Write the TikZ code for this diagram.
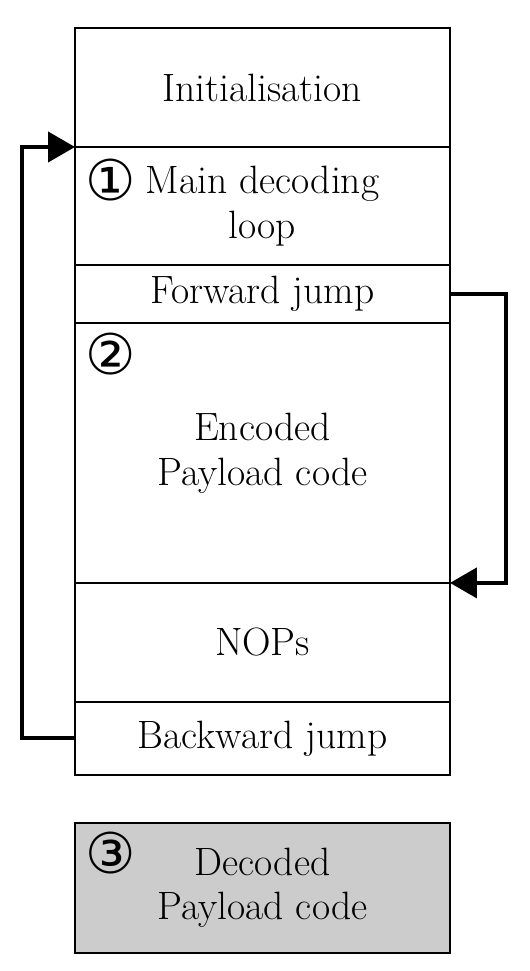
\documentclass[tikz,border=0pt]{standalone}
\usepackage{fontspec}
\newfontfamily\circfont{DejaVu Sans}
\usetikzlibrary{arrows.meta,calc,positioning}

\begin{document}
\begin{tikzpicture}[x=0.02cm,y=-0.02cm,>={Triangle[length=0.54cm,width=0.6cm]},
  part/.style={draw,line width=1.1pt,outer sep=0pt,inner sep=0pt,minimum width=7.5cm,
    align=center,font=\fontsize{22.5}{25.5}\selectfont},
  numlabel/.style={anchor=north west,inner sep=0pt,font=\circfont\fontsize{32}{32}\selectfont},
  jump/.style={->,line width=2.3pt}]
  \useasboundingbox (0,0) rectangle (530,971);
  % Speicherbloecke
  \node[part,minimum height=2.38cm] (init) at (262.5,87.5) {Initialisation};
  \node[part,minimum height=2.36cm,below=0pt of init] (main) {Main decoding\\loop};
  \node[part,minimum height=1.16cm,below=0pt of main] (fwd) {Forward jump};
  \node[part,minimum height=5.2cm,below=0pt of fwd] (payload) {Encoded\\Payload code};
  \node[part,minimum height=2.38cm,below=0pt of payload] (nops) {NOPs};
  \node[part,minimum height=1.46cm,below=0pt of nops] (back) {Backward jump};
  \node[part,minimum height=2.6cm,fill=gray!40,below=0.96cm of back] (dec) {Decoded\\Payload code};
  % Nummern
  \node[numlabel] (n1) at ($(main.north west)+(10,12)$) {①};
  \node[numlabel] (n2) at ($(payload.north west)+(10,10)$) {②};
  \node[numlabel] (n3) at ($(dec.north west)+(10,9)$) {③};
  % Spruenge
  \draw[jump] (back.west) -- ++(-53,0) |- (main.north west);
  \draw[jump] (fwd.east) -- ++(56,0) |- (payload.south east);
\end{tikzpicture}
\end{document}
